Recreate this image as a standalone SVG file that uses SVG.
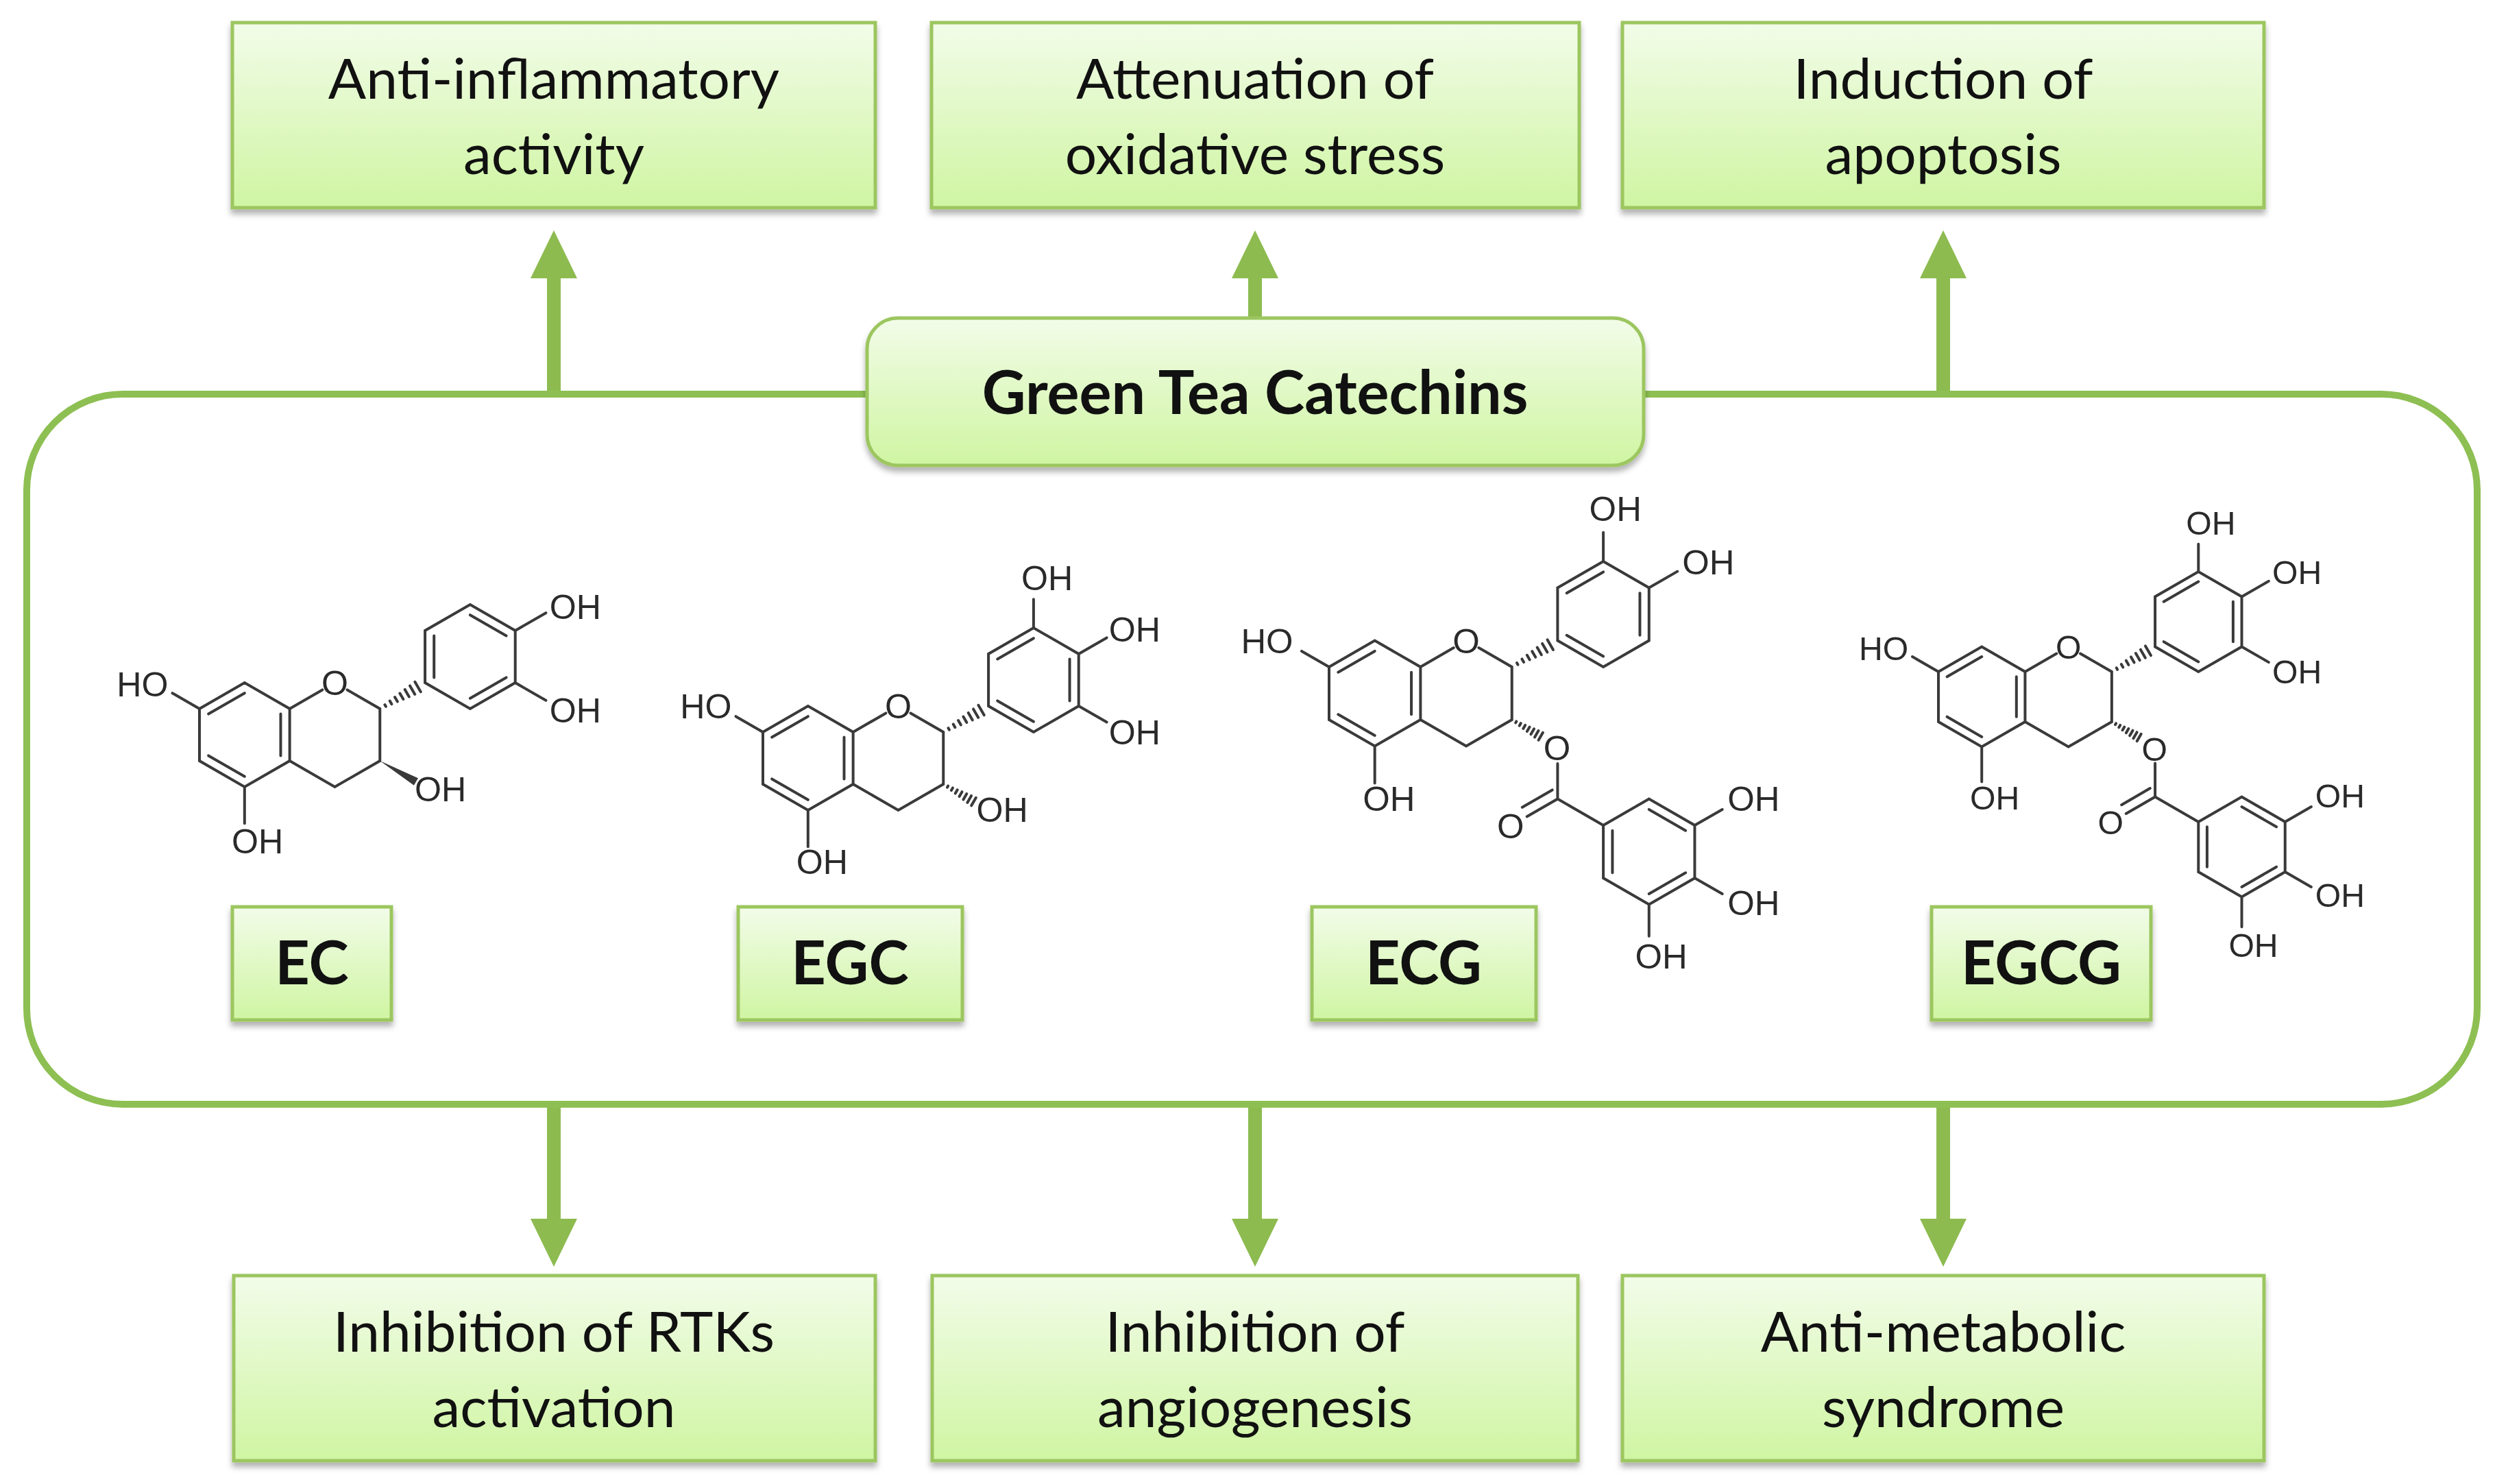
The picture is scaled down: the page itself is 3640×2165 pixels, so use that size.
<svg xmlns="http://www.w3.org/2000/svg" xmlns:xlink="http://www.w3.org/1999/xlink" width="3640" height="2165" viewBox="0 0 3640 2165">
<style>
.box{fill:url(#g);stroke:#9cc65f;stroke-width:5;filter:url(#sh)}
.t{font-family:Lato,"Open Sans",sans-serif;font-size:82px;fill:#111;text-anchor:middle}
.tb{font-family:Lato,"Open Sans",sans-serif;font-size:88px;font-weight:bold;fill:#111;text-anchor:middle}
.b{stroke:#3a3a3a;stroke-width:4;fill:none;vector-effect:non-scaling-stroke;stroke-linecap:round}
.w{fill:#3a3a3a}
.a{font-family:"Liberation Sans",Arial,sans-serif;font-size:0.66px;fill:#2a2a2a}
.e{text-anchor:end}
.m{text-anchor:middle}
.arr{stroke:#8dbb50;stroke-width:20;fill:none}
</style>
<defs>
<linearGradient id="g" x1="0" y1="0" x2="0" y2="1"><stop offset="0" stop-color="#f2fce9"/><stop offset="1" stop-color="#cff5a2"/></linearGradient>
<filter id="sh" x="-5%" y="-5%" width="110%" height="120%"><feDropShadow dx="0" dy="7" stdDeviation="4" flood-color="#000" flood-opacity="0.3"/></filter>
<g id="hash"><path class="b" d="M0.12,-0.02V0.02M0.24,-0.035V0.035M0.36,-0.05V0.05M0.48,-0.065V0.065M0.6,-0.08V0.08M0.72,-0.095V0.095M0.84,-0.11V0.11"/></g>
<g id="core">
<path class="b" d="M0,0L0.866,-0.5L1.732,0L1.732,1L0.866,1.5L0,1Z M0.173,0.1L0.866,-0.3 M1.559,0.1V0.9 M0.866,1.3L0.173,0.9 M1.732,0L2.36,-0.363 M2.836,-0.363L3.464,0V1L2.598,1.5L1.732,1 M0,0L-0.52,-0.3 M0.866,1.5V2.2"/>
<text class="a m" x="2.598" y="-0.26">O</text>
</g>
<g id="gall">
<path class="b" d="M4.33,1.83V2.5L3.75,2.835 M4.33,2.5L5.196,3 M4.23,2.33L3.66,2.66 M5.196,3L6.062,2.5L6.928,3V4L6.062,4.5L5.196,4Z M6.062,2.7L6.755,3.1 M5.369,3.1V3.9 M6.755,3.9L6.062,4.3 M6.928,3L7.45,2.7 M6.928,4L7.45,4.3 M6.062,4.5V5.1"/>
<text class="a m" x="3.44" y="3.25">O</text>
</g>
</defs>
<rect width="3640" height="2165" fill="#fff"/>
<g id="connectors">
<path class="arr" d="M808,575V400 M1831,464V400 M2835,575V400 M808,1611V1785 M1831,1611V1785 M2835,1611V1785"/>
<path fill="#8dbb50" d="M774,406L808,336L842,406Z M1797,406L1831,336L1865,406Z M2801,406L2835,336L2869,406Z M774,1778L808,1848L842,1778Z M1797,1778L1831,1848L1865,1778Z M2801,1778L2835,1848L2869,1778Z"/>
</g>
<g id="container"><rect x="39" y="575" width="3575" height="1036" rx="140" fill="#fff" stroke="#8dbf52" stroke-width="10"/></g>
<g id="gtc"><rect class="box" x="1265" y="464" width="1133" height="215" rx="45"/><text class="tb" x="1831" y="604" font-size="86">Green Tea Catechins</text></g>
<g id="n1"><rect class="box" x="339" y="33" width="938" height="270"/><text class="t" x="808" y="144">Anti-inflammatory</text><text class="t" x="808" y="254">activity</text></g>
<g id="n2"><rect class="box" x="1359" y="33" width="945" height="270"/><text class="t" x="1831" y="144">Attenuation of</text><text class="t" x="1831" y="254">oxidative stress</text></g>
<g id="n3"><rect class="box" x="2367" y="33" width="936" height="270"/><text class="t" x="2835" y="144">Induction of</text><text class="t" x="2835" y="254">apoptosis</text></g>
<g id="n4"><rect class="box" x="341" y="1861" width="936" height="270"/><text class="t" x="808" y="1972">Inhibition of RTKs</text><text class="t" x="808" y="2082">activation</text></g>
<g id="n5"><rect class="box" x="1360" y="1861" width="942" height="270"/><text class="t" x="1831" y="1972">Inhibition of</text><text class="t" x="1831" y="2082">angiogenesis</text></g>
<g id="n6"><rect class="box" x="2367" y="1861" width="936" height="270"/><text class="t" x="2835" y="1972">Anti-metabolic</text><text class="t" x="2835" y="2082">syndrome</text></g>
<g id="lEC"><rect class="box" x="339" y="1323" width="232" height="165"/><text class="tb" x="455" y="1436">EC</text></g>
<g id="lEGC"><rect class="box" x="1077" y="1323" width="327" height="165"/><text class="tb" x="1240" y="1436">EGC</text></g>
<g id="lECG"><rect class="box" x="1914" y="1323" width="327" height="165"/><text class="tb" x="2077" y="1436">ECG</text></g>
<g id="lEGCG"><rect class="box" x="2818" y="1323" width="320" height="165"/><text class="tb" x="2978" y="1436">EGCG</text></g>
<g id="molEC" transform="translate(291,1034) scale(76)">
<use xlink:href="#core"/>
<use xlink:href="#hash" transform="translate(3.464,0) rotate(-30)"/>
<polygon class="w" points="3.464,1 4.197,1.331 4.117,1.469"/>
<path class="b" d="M4.33,-0.5V-1.5L5.196,-2L6.062,-1.5V-0.5L5.196,0Z M4.503,-0.6V-1.4 M5.196,-1.8L5.889,-1.4 M5.889,-0.6L5.196,-0.2 M6.062,-1.5L6.65,-1.84 M6.062,-0.5L6.65,-0.16"/>
<text class="a e" x="-0.6" y="-0.24">HO</text>
<text class="a" x="0.62" y="2.78">OH</text>
<text class="a" x="4.13" y="1.78">OH</text>
<text class="a" x="6.72" y="-1.72">OH</text>
<text class="a" x="6.72" y="0.26">OH</text>
</g>
<g id="molEGC" transform="translate(1113,1068) scale(76)">
<use xlink:href="#core"/>
<use xlink:href="#hash" transform="translate(3.464,0) rotate(-30)"/>
<use xlink:href="#hash" transform="translate(3.464,1) rotate(30) scale(0.8)"/>
<path class="b" d="M4.33,-0.5V-1.5L5.196,-2L6.062,-1.5V-0.5L5.196,0Z M4.503,-1.4L5.196,-1.8 M5.889,-1.4V-0.6 M5.196,-0.2L4.503,-0.6 M6.062,-1.5L6.6,-1.81 M6.062,-0.5L6.6,-0.19 M5.196,-2V-2.55"/>
<text class="a e" x="-0.6" y="-0.26">HO</text>
<text class="a" x="0.64" y="2.72">OH</text>
<text class="a" x="4.1" y="1.72">OH</text>
<text class="a" x="4.96" y="-2.72">OH</text>
<text class="a" x="6.64" y="-1.74">OH</text>
<text class="a" x="6.64" y="0.24">OH</text>
</g>
<g id="molECG" transform="translate(1939,973) scale(77)">
<use xlink:href="#core"/>
<use xlink:href="#gall"/>
<use xlink:href="#hash" transform="translate(3.464,0) rotate(-30)"/>
<use xlink:href="#hash" transform="translate(3.464,1) rotate(30) scale(0.75)"/>
<path class="b" d="M4.33,-0.5V-1.5L5.196,-2L6.062,-1.5V-0.5L5.196,0Z M4.503,-1.4L5.196,-1.8 M5.889,-1.4V-0.6 M5.196,-0.2L4.503,-0.6 M5.196,-2V-2.55 M6.062,-1.5L6.6,-1.81"/>
<text class="a m" x="4.32" y="1.77">O</text>
<text class="a e" x="-0.68" y="-0.26">HO</text>
<text class="a" x="0.64" y="2.73">OH</text>
<text class="a" x="4.93" y="-2.77">OH</text>
<text class="a" x="6.69" y="-1.75">OH</text>
<text class="a" x="7.55" y="2.73">OH</text>
<text class="a" x="7.55" y="4.7">OH</text>
<text class="a" x="5.8" y="5.71">OH</text>
</g>
<g id="molEGCG" transform="translate(2828,980) scale(73)">
<use xlink:href="#core"/>
<use xlink:href="#gall"/>
<use xlink:href="#hash" transform="translate(3.464,0) rotate(-30)"/>
<use xlink:href="#hash" transform="translate(3.464,1) rotate(30) scale(0.75)"/>
<path class="b" d="M4.33,-0.5V-1.5L5.196,-2L6.062,-1.5V-0.5L5.196,0Z M4.503,-1.4L5.196,-1.8 M5.889,-1.4V-0.6 M5.196,-0.2L4.503,-0.6 M5.196,-2V-2.55 M6.062,-1.5L6.6,-1.81 M6.062,-0.5L6.6,-0.19"/>
<text class="a m" x="4.32" y="1.78">O</text>
<text class="a e" x="-0.6" y="-0.23">HO</text>
<text class="a" x="0.63" y="2.75">OH</text>
<text class="a" x="4.95" y="-2.74">OH</text>
<text class="a" x="6.67" y="-1.75">OH</text>
<text class="a" x="6.67" y="0.23">OH</text>
<text class="a" x="7.53" y="2.71">OH</text>
<text class="a" x="7.53" y="4.7">OH</text>
<text class="a" x="5.8" y="5.7">OH</text>
</g>
</svg>
